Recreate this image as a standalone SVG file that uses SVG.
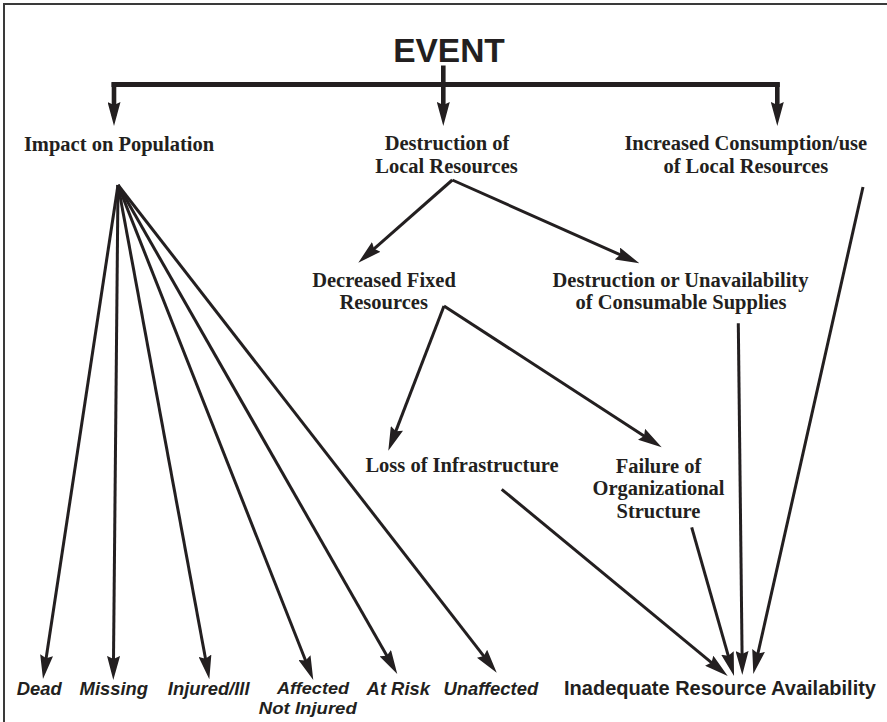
<svg xmlns="http://www.w3.org/2000/svg" width="887" height="722" viewBox="0 0 887 722">
<style>
.serif{font-family:"Liberation Serif","Times New Roman",serif;font-weight:bold;font-size:20.5px;fill:#231f20;text-anchor:middle}
.sans{font-family:"Liberation Sans",Arial,sans-serif;font-weight:bold;fill:#231f20;text-anchor:middle}
.it{font-style:italic;font-size:18.4px}
.it2{font-size:17.2px}
.ln{fill:none;stroke:#231f20;stroke-width:3;marker-end:url(#ah)}
.thick{fill:none;stroke:#231f20;stroke-width:5}
.drop{fill:none;stroke:#231f20;stroke-width:4.6;marker-end:url(#ah)}
</style>
<defs>
<marker id="ah" markerUnits="userSpaceOnUse" viewBox="0 0 24 13" markerWidth="24" markerHeight="13" refX="14" refY="6.5" orient="auto">
<path d="M0,0 L24,6.5 L0,13 L3,6.5 z" fill="#231f20"/>
</marker>
</defs>
<rect width="887" height="722" fill="#ffffff"/>
<g id="frame">
<path d="M4,722 V4 H887" fill="none" stroke="#3a3a3a" stroke-width="2"/>
</g>
<g id="event"><text class="sans" x="449" y="61.5" font-size="33.5">EVENT</text></g>
<g id="impact"><text class="serif" x="119" y="150.5">Impact on Population</text></g>
<g id="destruction"><text class="serif" x="447" y="150">Destruction of</text><text class="serif" x="446.5" y="172.7">Local Resources</text></g>
<g id="increased"><text class="serif" x="745.8" y="150">Increased Consumption/use</text><text class="serif" x="745.8" y="172.7">of Local Resources</text></g>
<g id="decreased"><text class="serif" x="384" y="286.7">Decreased Fixed</text><text class="serif" x="383.7" y="308.5">Resources</text></g>
<g id="unavail"><text class="serif" x="680.5" y="287">Destruction or Unavailability</text><text class="serif" x="681" y="308.5">of Consumable Supplies</text></g>
<g id="loss"><text class="serif" x="462" y="471.7">Loss of Infrastructure</text></g>
<g id="failure"><text class="serif" x="658.5" y="472.7">Failure of</text><text class="serif" x="658.5" y="495.2">Organizational</text><text class="serif" x="658.5" y="517.7">Structure</text></g>
<g id="dead"><text class="sans it" x="39.2" y="695">Dead</text></g>
<g id="missing"><text class="sans it" x="113.8" y="695">Missing</text></g>
<g id="injured"><text class="sans it" x="208.7" y="695">Injured/Ill</text></g>
<g id="affected"><text class="sans it it2" x="313" y="693.5" textLength="72" lengthAdjust="spacingAndGlyphs">Affected</text><text class="sans it it2" x="307.8" y="713.5" textLength="98" lengthAdjust="spacingAndGlyphs">Not Injured</text></g>
<g id="atrisk"><text class="sans it" x="398.3" y="695">At Risk</text></g>
<g id="unaffected"><text class="sans it" x="490.8" y="695">Unaffected</text></g>
<g id="inadequate"><text class="sans" x="720" y="695" font-size="20">Inadequate Resource Availability</text></g>
<g id="connectors">
<path class="thick" d="M111.5,84.5 H779.8"/>
<path class="drop" d="M443.3,65.5 V116"/>
<path class="drop" d="M114,82.5 V116"/>
<path class="drop" d="M777.3,82.5 V116"/>
<path class="ln" d="M118,185 L44.5,669.1"/>
<path class="ln" d="M118,185 L113.4,670"/>
<path class="ln" d="M118,185 L207.5,669.5"/>
<path class="ln" d="M118,185 L309.6,670.7"/>
<path class="ln" d="M118,185 L392.3,665.3"/>
<path class="ln" d="M118,185 L490.6,664.8"/>
<path class="ln" d="M452.3,180 L365.8,256.1"/>
<path class="ln" d="M452.3,180 L630.2,259.2"/>
<path class="ln" d="M444,306 L391.9,441.4"/>
<path class="ln" d="M444,306 L653.3,441.9"/>
<path class="ln" d="M501.7,489.3 L720,669.6"/>
<path class="ln" d="M691.7,527.3 L731.3,666.4"/>
<path class="ln" d="M738.3,323.3 L742.2,665"/>
<path class="ln" d="M863,187 L755.5,664.2"/>
</g>
</svg>
